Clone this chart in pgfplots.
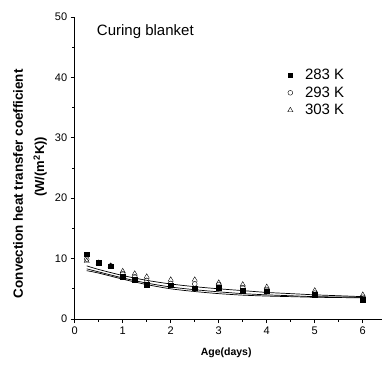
\documentclass[border=0pt]{standalone}
\usepackage{fontspec}
\setmainfont{Liberation Sans}
\usepackage{pgfplots}
\pgfplotsset{compat=1.18}
\begin{document}
\begin{tikzpicture}[x=1pt,y=1pt]
\begin{axis}[
  at={(0pt,0pt)}, anchor=origin,
  scale only axis, width=307.3pt, height=302pt,
  xmin=0, xmax=6.4, ymin=0, ymax=50,
  axis x line*=bottom, axis y line*=left,
  axis line style={black, line width=0.9pt},
  xtick={0,1,2,3,4,5,6}, ytick={0,10,20,30,40,50},
  minor x tick num=1, minor y tick num=1,
  tick align=outside, tick style={black, line width=0.7pt},
  major tick length=4pt, minor tick length=2.5pt,
  /pgf/number format/assume math mode=true,
  ticklabel style={font=\fontsize{11}{13}\selectfont},
  xlabel={\textbf{Age(days)}},
  xlabel style={font=\fontsize{10.5}{12}\selectfont, at={(axis description cs:0.493,0)}, anchor=center, yshift=-34pt},
  legend style={draw=none, fill=none, at={(axis cs:4.42,41.7)}, anchor=north west, font=\fontsize{15}{18}\selectfont, row sep=1.5pt, inner sep=0pt},
  legend cell align=left,
  legend image code/.code={\draw[#1] plot coordinates {(0pt,0pt)}; \path (-3pt,0pt) (12.5pt,0pt);},
  clip=false,
]
% fitted curves
\addplot[black, line width=0.7pt, smooth, forget plot] coordinates {
(0.25,8.8)(0.5,8.2)(1,7.2)(1.5,6.4)(2,5.8)(2.5,5.35)(3,5.0)(3.5,4.7)(4,4.4)(4.5,4.2)(5,4.0)(5.5,3.85)(6,3.7)};
\addplot[black, line width=0.7pt, smooth, forget plot] coordinates {
(0.25,8.3)(0.5,7.8)(1,6.8)(1.5,5.95)(2,5.3)(2.5,4.85)(3,4.5)(3.5,4.2)(4,4.0)(4.5,3.85)(5,3.7)(5.5,3.65)(6,3.6)};
\addplot[black, line width=0.7pt, smooth, forget plot] coordinates {
(0.25,8.0)(0.5,7.6)(1,6.6)(1.5,5.7)(2,5.0)(2.5,4.55)(3,4.2)(3.5,3.95)(4,3.8)(4.5,3.7)(5,3.6)(5.5,3.55)(6,3.5)};
% data
\addplot[only marks, mark=square*, mark size=2.2pt, black] coordinates {
(0.25,10.7)(0.5,9.3)(0.75,8.7)(1,7.0)(1.25,6.5)(1.5,5.7)(2,5.6)(2.5,5.1)(3,5.2)(3.5,4.7)(4,4.6)(5,4.0)(6,3.2)};
\addlegendentry{283 K}
\addplot[only marks, mark=o, mark size=2.4pt, black, fill=white] coordinates {
(0.25,9.9)(0.5,9.3)(0.75,8.8)(1,7.5)(1.25,7.0)(1.5,6.4)(2,5.9)(2.5,5.8)(3,5.7)(3.5,5.2)(4,4.9)(5,4.3)(6,3.6)};
\addlegendentry{293 K}
\addplot[only marks, mark=triangle, mark size=3pt, black, fill=white] coordinates {
(0.25,9.6)(0.5,9.3)(0.75,8.8)(1,7.9)(1.25,7.5)(1.5,7.0)(2,6.5)(2.5,6.5)(3,6.0)(3.5,5.7)(4,5.3)(5,4.7)(6,4.0)};
\addlegendentry{303 K}
\node[anchor=west, font=\fontsize{15}{17}\selectfont, inner sep=0pt] at (axis cs:0.46,47.5) {Curing blanket};
\node[rotate=90, font=\fontsize{13.4}{15}\selectfont\bfseries, inner sep=0pt] at (axis cs:-1.18,22.4) {Convection heat transfer coefficient};
\node[rotate=90, font=\fontsize{13}{15}\selectfont\bfseries, inner sep=0pt] at (axis cs:-0.72,25.2) {(W/(m\textsuperscript{2}K))};
\end{axis}
\pgfresetboundingbox
\path (-74.7pt,-45pt) rectangle (307.3pt,319pt);
\end{tikzpicture}
\end{document}
